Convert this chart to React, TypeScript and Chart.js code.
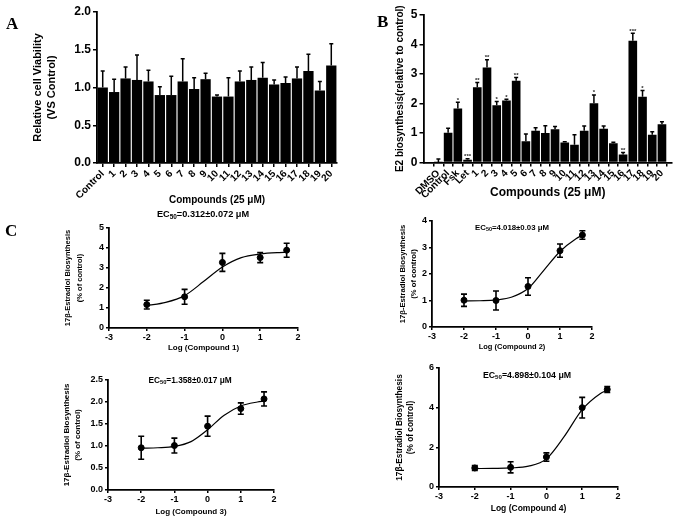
import React, { useEffect, useRef } from 'react';
import { Chart, registerables } from 'chart.js';

Chart.register(...registerables);

const SANS = "'Liberation Sans', Arial, Helvetica, sans-serif";
const SERIF = "'Liberation Serif', 'Times New Roman', serif";
const BLACK = '#000000';

// ---------- Panel A : cell viability ----------
const aLabels = ['Control', '1', '2', '3', '4', '5', '6', '7', '8', '9', '10', '11', '12', '13', '14', '15', '16', '17', '18', '19', '20'];
const aValues = [1.0, 0.94, 1.12, 1.1, 1.08, 0.9, 0.9, 1.08, 0.98, 1.11, 0.88, 0.88, 1.08, 1.1, 1.13, 1.04, 1.06, 1.12, 1.22, 0.96, 1.29];
const aErrors = [0.22, 0.17, 0.15, 0.33, 0.15, 0.11, 0.25, 0.3, 0.15, 0.08, 0.02, 0.25, 0.14, 0.17, 0.2, 0.06, 0.08, 0.15, 0.22, 0.12, 0.29];

// ---------- Panel B : E2 biosynthesis ----------
const bLabels = ['DMSO', 'Control', 'Fsk', 'Let', '1', '2', '3', '4', '5', '6', '7', '8', '9', '10', '11', '12', '13', '14', '15', '16', '17', '18', '19', '20'];
const bValues = [0.01, 1.01, 1.83, 0.09, 2.55, 3.22, 1.94, 2.1, 2.77, 0.72, 1.08, 1.0, 1.13, 0.68, 0.6, 1.08, 2.01, 1.14, 0.65, 0.27, 4.13, 2.23, 0.94, 1.3];
const bErrors = [0.11, 0.15, 0.21, 0.04, 0.16, 0.26, 0.13, 0.04, 0.11, 0.25, 0.1, 0.25, 0.09, 0.02, 0.34, 0.16, 0.28, 0.1, 0.04, 0.07, 0.25, 0.21, 0.1, 0.08];
const bSig = ['', '', '*', '***', '**', '**', '*', '*', '**', '', '', '', '', '', '', '', '*', '', '', '**', '***', '*', '', ''];

// ---------- Panel C : dose responses ----------
const doseX = [-2, -1, 0, 1, 1.7];
const c1Mean = [1.17, 1.56, 3.28, 3.52, 3.89];
const c1Err = [0.22, 0.37, 0.45, 0.25, 0.35];
const c2Mean = [1.01, 1.0, 1.53, 2.88, 3.47];
const c2Err = [0.23, 0.36, 0.33, 0.25, 0.16];
const c3Mean = [0.96, 1.01, 1.45, 1.85, 2.07];
const c3Err = [0.26, 0.17, 0.23, 0.13, 0.16];
const c4Mean = [0.96, 0.99, 1.51, 4.0, 4.92];
const c4Err = [0.12, 0.28, 0.21, 0.52, 0.15];

const curveX = [-2, -1.5, -1, -0.5, 0, 0.5, 1, 1.5, 1.7];
const c1Curve = [1.12, 1.28, 1.62, 2.32, 3.05, 3.52, 3.7, 3.77, 3.78];
const c2Curve = [0.98, 0.99, 1.02, 1.13, 1.45, 2.15, 2.85, 3.33, 3.46];
const c3Curve = [0.95, 0.96, 0.99, 1.1, 1.37, 1.7, 1.91, 2.0, 2.02];
const c4Curve = [0.93, 0.94, 0.96, 1.05, 1.42, 2.55, 3.9, 4.7, 4.88];

const fnt = (size: number, lineHeight?: number) => ({
  family: SANS,
  size,
  weight: 'bold' as const,
  lineHeight: lineHeight ?? 1.2,
});

const errorBarPlugin = {
  id: 'errorBars',
  afterDatasetsDraw(chart: any) {
    const ctx = chart.ctx;
    chart.data.datasets.forEach((ds: any, di: number) => {
      if (!ds.errors) return;
      const meta = chart.getDatasetMeta(di);
      const yScale = chart.scales[meta.yAxisID];
      ctx.save();
      ctx.strokeStyle = BLACK;
      ctx.fillStyle = BLACK;
      ctx.lineWidth = ds.errLineWidth ?? 1.5;
      meta.data.forEach((el: any, i: number) => {
        const raw = ds.data[i];
        const v = typeof raw === 'number' ? raw : raw.y;
        const e = ds.errors[i];
        const x = el.x;
        const top = yScale.getPixelForValue(v + e);
        const bot = ds.errBoth ? yScale.getPixelForValue(v - e) : el.y;
        const cw = ds.capWidth ?? 4;
        ctx.beginPath();
        ctx.moveTo(x, bot);
        ctx.lineTo(x, top);
        ctx.moveTo(x - cw / 2, top);
        ctx.lineTo(x + cw / 2, top);
        if (ds.errBoth) {
          ctx.moveTo(x - cw / 2, bot);
          ctx.lineTo(x + cw / 2, bot);
        }
        ctx.stroke();
        if (ds.sig && ds.sig[i]) {
          ctx.fillStyle = '#222';
          ctx.font = `bold 6px ${SANS}`;
          ctx.textAlign = 'center';
          ctx.textBaseline = 'alphabetic';
          ctx.fillText(ds.sig[i], x, top - 0.5);
        }
      });
      ctx.restore();
    });
  },
};

const tickGrid = (len: number) => ({
  display: true,
  drawOnChartArea: false,
  drawTicks: true,
  tickLength: len,
  color: BLACK,
  lineWidth: 1.5,
});

const border = { display: true, color: BLACK, width: 1.8 };

function yLinear(o: {
  max: number; step: number; dec?: number; tick: number; width: number;
  title: string | string[]; tSize: number; tLH: number; tPad: number; tLen?: number;
}) {
  return {
    type: 'linear',
    min: 0,
    max: o.max,
    ticks: {
      stepSize: o.step,
      color: BLACK,
      font: fnt(o.tick),
      padding: 2,
      callback: (v: any) => (o.dec !== undefined ? Number(v).toFixed(o.dec) : String(v)),
    },
    grid: tickGrid(o.tLen ?? 4),
    border,
    title: { display: true, text: o.title, color: BLACK, font: fnt(o.tSize, o.tLH / o.tSize), padding: { top: o.tPad, bottom: 0 } },
    afterFit: (s: any) => { s.width = o.width; },
  };
}

function makeA(): any {
  return {
    type: 'bar',
    data: {
      labels: aLabels,
      datasets: [{ data: aValues, backgroundColor: BLACK, barPercentage: 0.9, categoryPercentage: 1, errors: aErrors, capWidth: 4 }],
    },
    options: {
      responsive: false,
      animation: false,
      layout: { padding: { top: 12, right: 8, bottom: 0, left: 0 } },
      plugins: { legend: { display: false }, tooltip: { enabled: false } },
      scales: {
        x: {
          offset: true,
          grid: { ...tickGrid(4), offset: false },
          border,
          ticks: { autoSkip: false, minRotation: 45, maxRotation: 45, color: BLACK, font: fnt(10), padding: 1 },
          title: { display: true, text: 'Compounds (25 μM)', color: BLACK, font: fnt(10), padding: { top: 0, bottom: 4 } },
          afterFit: (s: any) => { s.height = 47; },
        },
        y: yLinear({ max: 2, step: 0.5, dec: 1, tick: 12, width: 97, title: ['Relative cell Viability', '(VS Control)'], tSize: 11, tLH: 14, tPad: 31 }),
      },
    },
    plugins: [errorBarPlugin],
  };
}

function makeB(): any {
  return {
    type: 'bar',
    data: {
      datasets: [{
        data: bValues.map((y, i) => ({ x: i, y })),
        backgroundColor: BLACK,
        barPercentage: 0.89,
        categoryPercentage: 1,
        errors: bErrors,
        sig: bSig,
        capWidth: 4,
      }],
    },
    options: {
      responsive: false,
      animation: false,
      layout: { padding: { top: 15, right: 3, bottom: 0, left: 0 } },
      plugins: { legend: { display: false }, tooltip: { enabled: false } },
      scales: {
        x: {
          type: 'linear',
          min: -1,
          max: 23.5,
          afterBuildTicks: (s: any) => { s.ticks = bLabels.map((_, i) => ({ value: i })); },
          grid: tickGrid(4),
          border,
          ticks: {
            autoSkip: false, minRotation: 45, maxRotation: 45, color: BLACK, font: fnt(10), padding: 1,
            callback: (v: any) => bLabels[Math.round(Number(v))] ?? '',
          },
          title: { display: true, text: 'Compounds (25 μM)', color: BLACK, font: fnt(12), padding: { top: 0, bottom: 10 } },
          afterFit: (s: any) => { s.height = 47.5; },
        },
        y: yLinear({ max: 5, step: 1, tick: 12, width: 83.5, title: 'E2 biosynthesis(relative to control)', tSize: 10, tLH: 12, tPad: 54 }),
      },
    },
    plugins: [errorBarPlugin],
  };
}

function makeC(o: {
  mean: number[]; err: number[]; curve: number[]; ymax: number; ystep: number; dec?: number;
  padTop: number; padRight: number; yWidth: number; xHeight: number; xPadBottom: number;
  xTitle: string; xTitleSize: number; yTitleSize: number; yTitleLH: number; yTitlePad: number;
}): any {
  return {
    type: 'scatter',
    data: {
      datasets: [
        {
          data: curveX.map((x, i) => ({ x, y: o.curve[i] })),
          showLine: true,
          borderColor: BLACK,
          borderWidth: 1.2,
          pointRadius: 0,
          cubicInterpolationMode: 'monotone',
        },
        {
          data: doseX.map((x, i) => ({ x, y: o.mean[i] })),
          showLine: false,
          pointRadius: 3,
          pointStyle: 'circle',
          backgroundColor: BLACK,
          borderColor: BLACK,
          errors: o.err,
          errBoth: true,
          capWidth: 6,
          errLineWidth: 1.6,
        },
      ],
    },
    options: {
      responsive: false,
      animation: false,
      layout: { padding: { top: o.padTop, right: o.padRight, bottom: 0, left: 0 } },
      plugins: { legend: { display: false }, tooltip: { enabled: false } },
      scales: {
        x: {
          type: 'linear',
          min: -3,
          max: 2,
          ticks: { stepSize: 1, color: BLACK, font: fnt(9), padding: 1 },
          grid: tickGrid(3),
          border,
          title: { display: true, text: o.xTitle, color: BLACK, font: fnt(o.xTitleSize), padding: { top: 0, bottom: o.xPadBottom } },
          afterFit: (s: any) => { s.height = o.xHeight; },
        },
        y: yLinear({
          max: o.ymax, step: o.ystep, dec: o.dec, tick: 9, width: o.yWidth,
          title: ['17β-Estradiol Biosynthesis', '(% of control)'], tSize: o.yTitleSize, tLH: o.yTitleLH, tPad: o.yTitlePad, tLen: 3,
        }),
      },
    },
    plugins: [errorBarPlugin],
  };
}

function ChartBox(props: { left: number; top: number; width: number; height: number; make: () => any }) {
  const ref = useRef<HTMLCanvasElement>(null);
  useEffect(() => {
    const chart = new Chart(ref.current as HTMLCanvasElement, props.make());
    return () => chart.destroy();
  }, []);
  return (
    <canvas
      ref={ref}
      width={props.width}
      height={props.height}
      style={{ position: 'absolute', left: props.left, top: props.top, width: props.width, height: props.height }}
    />
  );
}

function Letter(props: { x: number; y: number; text: string }) {
  return (
    <div style={{ position: 'absolute', left: props.x, top: props.y, font: `bold 17px ${SERIF}`, color: BLACK, lineHeight: '17px' }}>
      {props.text}
    </div>
  );
}

function EC50(props: { cx: number; cy: number; size: number; text: string }) {
  return (
    <div
      style={{
        position: 'absolute', left: props.cx, top: props.cy, transform: 'translate(-50%, -50%)',
        font: `bold ${props.size}px ${SANS}`, color: BLACK, whiteSpace: 'nowrap', lineHeight: 1,
      }}
    >
      EC<sub style={{ fontSize: '70%', verticalAlign: '-0.25em', lineHeight: 0 }}>50</sub>={props.text} μM
    </div>
  );
}

export default function App() {
  return (
    <div style={{ position: 'absolute', left: 0, top: 0, width: 675, height: 517, background: '#fff', overflow: 'hidden' }}>
      <ChartBox left={0} top={0} width={345} height={210} make={makeA} />
      <ChartBox left={340} top={0} width={335} height={210} make={makeB} />
      <ChartBox
        left={0} top={205} width={310} height={152}
        make={() => makeC({
          mean: c1Mean, err: c1Err, curve: c1Curve, ymax: 5, ystep: 1,
          padTop: 23, padRight: 12, yWidth: 109, xHeight: 29, xPadBottom: 4.6,
          xTitle: 'Log (Compound 1)', xTitleSize: 8, yTitleSize: 7.5, yTitleLH: 12, yTitlePad: 62,
        })}
      />
      <ChartBox
        left={340} top={205} width={270} height={152}
        make={() => makeC({
          mean: c2Mean, err: c2Err, curve: c2Curve, ymax: 4, ystep: 1,
          padTop: 16, padRight: 18, yWidth: 92, xHeight: 30, xPadBottom: 5.9,
          xTitle: 'Log (Compound 2)', xTitleSize: 7.5, yTitleSize: 7.7, yTitleLH: 11, yTitlePad: 57.8,
        })}
      />
      <ChartBox
        left={0} top={365} width={290} height={152}
        make={() => makeC({
          mean: c3Mean, err: c3Err, curve: c3Curve, ymax: 2.5, ystep: 0.5, dec: 1,
          padTop: 15, padRight: 16, yWidth: 108, xHeight: 27, xPadBottom: 0,
          xTitle: 'Log (Compound 3)', xTitleSize: 8, yTitleSize: 8, yTitleLH: 10.5, yTitlePad: 62,
        })}
      />
      <ChartBox
        left={340} top={355} width={300} height={162}
        make={() => makeC({
          mean: c4Mean, err: c4Err, curve: c4Curve, ymax: 6, ystep: 2,
          padTop: 13, padRight: 22, yWidth: 99, xHeight: 30, xPadBottom: 3.3,
          xTitle: 'Log (Compound 4)', xTitleSize: 8.5, yTitleSize: 8.3, yTitleLH: 11, yTitlePad: 54.5,
        })}
      />
      <Letter x={6} y={15} text="A" />
      <Letter x={377} y={13} text="B" />
      <Letter x={5} y={222} text="C" />
      <EC50 cx={203} cy={215} size={9.2} text="0.312±0.072" />
      <EC50 cx={512} cy={228} size={7.8} text="4.018±0.03" />
      <EC50 cx={190} cy={380} size={8.3} text="1.358±0.017" />
      <EC50 cx={527} cy={375} size={8.8} text="4.898±0.104" />
    </div>
  );
}
